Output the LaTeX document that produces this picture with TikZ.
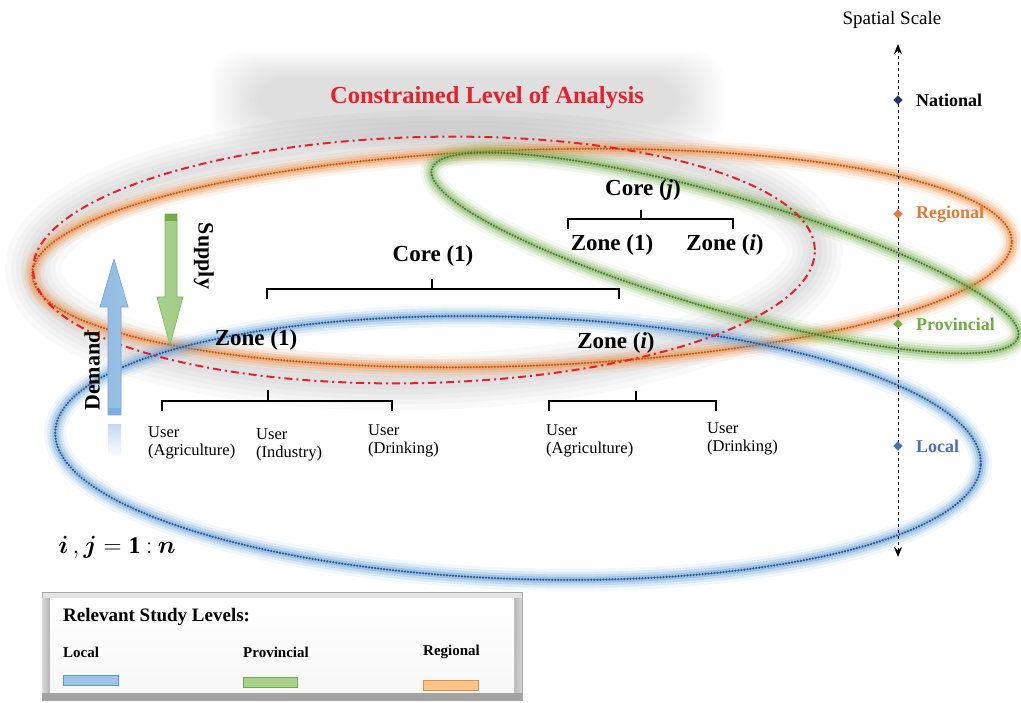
\documentclass[tikz,border=0pt]{standalone}
\usepackage{amsmath}
\usepackage{fontspec}
\setmainfont{Liberation Serif}
\usetikzlibrary{shapes.geometric,arrows.meta}
\definecolor{blueglow}{HTML}{5B9BD5}
\definecolor{bluedot}{HTML}{2F5597}
\definecolor{orangeglow}{HTML}{F08A3C}
\definecolor{orangedot}{HTML}{C55A11}
\definecolor{greenglow}{HTML}{70AD47}
\definecolor{greendot}{HTML}{4E7A33}
\definecolor{redline}{HTML}{E8202A}
\definecolor{navy}{HTML}{1F3864}
\definecolor{reglbl}{HTML}{E07B39}
\definecolor{provlbl}{HTML}{70AD47}
\definecolor{loclbl}{HTML}{4A6FB5}
\definecolor{demandfill}{HTML}{9DC3E6}
\definecolor{demanddraw}{HTML}{6FA3D8}
\definecolor{supplyfill}{HTML}{A9D18E}
\definecolor{supplydraw}{HTML}{7DB35A}
\newcommand{\glowell}[6]{%
  \foreach \w/\o in {22/0.08,16/0.14,11/0.22,6/0.34}{%
    \draw[#5, line width=\w pt, opacity=\o, rotate around={#4:#1}] #1 ellipse [x radius=#2pt, y radius=#3pt];}%
  \draw[#6, dotline, rotate around={#4:#1}] #1 ellipse [x radius=#2pt, y radius=#3pt];%
}
\newcommand{\idxtext}{$\boldsymbol{i}\,,\boldsymbol{j}=\mathbf{1}\mathbin{\mathbf{:}}\boldsymbol{n}$}
\tikzset{
  lbl/.style={font=\fontsize{23}{26}\selectfont\bfseries, inner sep=0pt},
  usr/.style={font=\fontsize{16.5}{18.5}\selectfont, align=left, anchor=north west, inner sep=0pt},
  brk/.style={line width=1.4pt, black},
  dotline/.style={line width=2.5pt, dash pattern=on 0.01pt off 3pt, line cap=round},
  mk/.style={diamond, draw=#1, fill=#1, minimum size=9pt, inner sep=0pt},
  scalelbl/.style={font=\fontsize{18}{20}\selectfont\bfseries, anchor=west, inner sep=0pt},
  leglbl/.style={font=\fontsize{15}{17}\selectfont\bfseries, anchor=west, inner sep=0pt},
  arrowlbl/.style={font=\fontsize{22}{24}\selectfont\bfseries, inner sep=0pt},
}
\begin{document}
\begin{tikzpicture}[x=1pt,y=-1pt]
\useasboundingbox (0,0) rectangle (1021,703);
\fill[white] (0,0) rectangle (1021,703);
% gray soft glow behind title
\foreach \i in {0,...,15}{
  \fill[black, opacity=0.009, rounded corners=30] (255-\i*3,78-\i*1.8) rectangle (680+\i*3,122+\i*1.8);
}
% gray glow of constrained ellipse
\foreach \w in {56,44,34,24,14}{
  \draw[black, opacity=0.022, line width=\w pt, rotate around={1.5:(424,260)}] (424,260) ellipse [x radius=391pt, y radius=122pt];
}
% study-level ellipses
\glowell{(522,258)}{490}{108}{2}{orangeglow}{orangedot}
\glowell{(725,253)}{305}{57}{-16}{greenglow}{greendot}
\glowell{(518,448)}{463}{131}{-2}{blueglow}{bluedot}
% constrained level ellipse
\draw[redline, line width=2pt, dash pattern=on 8pt off 4pt on 2pt off 4pt, rotate around={1.5:(424,260)}] (424,260) ellipse [x radius=391pt, y radius=123pt];
% title
\node[font=\fontsize{24.5}{28}\selectfont\bfseries, text=redline, inner sep=0pt] (title) at (487,98) {Constrained Level of Analysis};
% spatial scale axis
\node[font=\fontsize{19}{22}\selectfont, inner sep=0pt] (sstitle) at (892,20) {Spatial Scale};
\coordinate (axtop) at (898,44);
\coordinate (axbot) at (898,557);
\draw[black, line width=1pt, dashed, {Stealth[length=10pt,width=8pt]}-{Stealth[length=10pt,width=8pt]}] (axtop) -- (axbot);
\node[mk=navy] (nat) at (898,100) {};
\node[mk=reglbl] (reg) at (898,214) {};
\node[mk=provlbl] (prov) at (898,324) {};
\node[mk=loclbl] (loc) at (898,446) {};
\node[scalelbl] at (916,100) {National};
\node[scalelbl, text=reglbl] at (916,214) {Regional};
\node[scalelbl, text=provlbl] at (916,324) {Provincial};
\node[scalelbl, text=loclbl] at (916,446) {Local};
% hierarchy: core j
\node[lbl] (corej) at (643,190) {Core (\textit{j})};
\node[lbl] (zone1a) at (612,245) {Zone (1)};
\node[lbl] (zoneia) at (725,245) {Zone (\textit{i})};
\coordinate (cjs) at (641,210);
\coordinate (cjm) at (641,219);
\coordinate (cjl) at (568,219);
\coordinate (cjr) at (733,219);
\draw[brk] (cjs) -- (cjm);
\draw[brk] ([yshift=-10pt]cjl) -- (cjl) -- (cjr) -- ([yshift=-10pt]cjr);
% hierarchy: core 1
\node[lbl] (core1) at (433,256) {Core (1)};
\node[lbl] (zone1b) at (256,340) {Zone (1)};
\node[lbl] (zoneib) at (616,343) {Zone (\textit{i})};
\coordinate (c1s) at (432,279);
\coordinate (c1m) at (432,289);
\coordinate (c1l) at (267,289);
\coordinate (c1r) at (619,289);
\draw[brk] (c1s) -- (c1m);
\draw[brk] ([yshift=-10pt]c1l) -- (c1l) -- (c1r) -- ([yshift=-10pt]c1r);
% zone 1 users
\coordinate (z1s) at (268,390);
\coordinate (z1m) at (268,401);
\coordinate (z1l) at (162,401);
\coordinate (z1r) at (392,401);
\draw[brk] (z1s) -- (z1m);
\draw[brk] ([yshift=-10pt]z1l) -- (z1l) -- (z1r) -- ([yshift=-10pt]z1r);
\node[usr] (ua1) at (148,426) {User\\(Agriculture)};
\node[usr] (ui1) at (256,428) {User\\(Industry)};
\node[usr] (ud1) at (368,424) {User\\(Drinking)};
% zone i users
\coordinate (zis) at (636,391);
\coordinate (zim) at (636,401);
\coordinate (zil) at (549,401);
\coordinate (zir) at (716,401);
\draw[brk] (zis) -- (zim);
\draw[brk] ([yshift=-10pt]zil) -- (zil) -- (zir) -- ([yshift=-10pt]zir);
\node[usr] (ua2) at (546,424) {User\\(Agriculture)};
\node[usr] (ud2) at (707,422) {User\\(Drinking)};
% demand arrow
\shade[left color=demandfill!80!blueglow, right color=demandfill, draw=demanddraw, line width=0.6pt]
  (108,415) -- (108,307) -- (100,307) -- (114,259) -- (128,307) -- (121,307) -- (121,415) -- cycle;
\fill[blueglow!80] (108,408) rectangle (121,415);
\shade[top color=demandfill!60, bottom color=white] (108,425) rectangle (121,458);
\node[arrowlbl, rotate=90] (demand) at (92,371) {Demand};
% supply arrow
\shade[left color=supplyfill, right color=supplyfill!85!greenglow, draw=supplydraw, line width=0.6pt]
  (165,214) -- (165,297) -- (157,297) -- (170,345) -- (183,297) -- (177,297) -- (177,214) -- cycle;
\fill[greenglow] (165,214) rectangle (177,221);
\node[arrowlbl, rotate=-90] (supply) at (204,256) {Supply};
% index note
\node[font=\fontsize{24}{28}\selectfont, inner sep=0pt] (idx) at (117,547) {\idxtext};
% legend
\shade[top color=gray!20, bottom color=gray!75, draw=gray!70] (42,592) rectangle (522,700);
\shade[left color=gray!30, right color=gray!60] (42,598) rectangle (50,692);
\shade[left color=gray!55, right color=gray!35] (514,598) rectangle (522,692);
\shade[top color=white, bottom color=gray!6] (50,598) rectangle (514,692);
\node[font=\fontsize{19}{22}\selectfont\bfseries, anchor=west, inner sep=0pt] (legtitle) at (63,617) {Relevant Study Levels:};
\node[leglbl] (leglocal) at (63,652) {Local};
\node[leglbl] (legprov) at (243,652) {Provincial};
\node[leglbl] (legreg) at (423,652) {Regional};
\draw[fill=demandfill, draw=blueglow] (63,675) rectangle (118,685);
\draw[fill=supplyfill, draw=greenglow] (243,677) rectangle (297,687);
\draw[fill=orange!45!white, draw=orangeglow] (423,680) rectangle (478,690);
\end{tikzpicture}
\end{document}
